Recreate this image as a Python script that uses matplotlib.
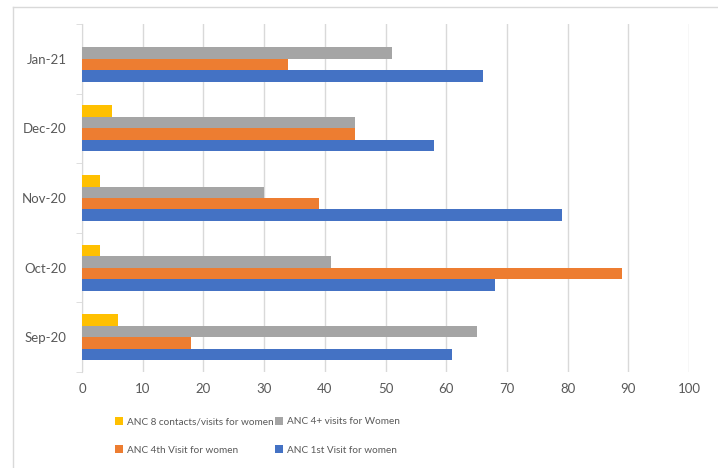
import matplotlib
matplotlib.use("Agg")
import matplotlib.pyplot as plt
from matplotlib.lines import Line2D
import numpy as np

plt.rcParams['font.family'] = ['Lato', 'DejaVu Sans']

months = ["Sep-20", "Oct-20", "Nov-20", "Dec-20", "Jan-21"]
anc_1st = [61, 68, 79, 58, 66]
anc_4th = [18, 89, 39, 45, 34]
anc_4plus = [65, 41, 30, 45, 51]
anc_8 = [6, 3, 3, 5, 0]

series = [
    ("ANC 1st Visit for women", anc_1st, "#4472C4"),
    ("ANC 4th Visit for women", anc_4th, "#ED7D31"),
    ("ANC 4+ visits for Women", anc_4plus, "#A5A5A5"),
    ("ANC 8 contacts/visits for women", anc_8, "#FFC000"),
]

W, H = 718, 468
fig = plt.figure(figsize=(W / 100, H / 100), dpi=100)
ax = fig.add_axes([82 / W, 1 - 372 / H, (689 - 82) / W, (372 - 24) / H])

y = np.arange(len(months))
bh = 0.165
offsets = (np.arange(4) - 1.5) * bh
bars = {}
for (name, vals, col), off in zip(series, offsets):
    bars[name] = ax.barh(y + off, vals, height=bh, color=col, label=name, zorder=3)

ax.set_xlim(0, 100)
ax.set_ylim(-0.5, len(months) - 0.5)
ax.set_xticks(np.arange(0, 101, 10))
ax.grid(axis='x', color='#D9D9D9', linewidth=1, zorder=0)
ax.set_yticks(y)
ax.set_yticklabels(months)
ax.set_yticks(np.arange(-0.5, len(months), 1), minor=True)
ax.tick_params(axis='y', which='major', length=0, pad=11, labelsize=9.5, labelcolor='#595959')
ax.tick_params(axis='y', which='minor', length=4, color='#D9D9D9', direction='out')
ax.tick_params(axis='x', length=0, pad=8, labelsize=9.5, labelcolor='#595959')
for s in ['top', 'right', 'bottom']:
    ax.spines[s].set_visible(False)
ax.spines['left'].set_color('#D9D9D9')

# chart-area border
fig.add_artist(Line2D([13 / W, 1], [1 - 7 / H, 1 - 7 / H], transform=fig.transFigure,
                      color='#D9D9D9', linewidth=1))
fig.add_artist(Line2D([13 / W, 13 / W], [0, 1 - 7 / H], transform=fig.transFigure,
                      color='#D9D9D9', linewidth=1))

order = ["ANC 8 contacts/visits for women", "ANC 4th Visit for women",
         "ANC 4+ visits for Women", "ANC 1st Visit for women"]
handles = [bars[n] for n in order]
fig.legend(handles, order, ncol=2, loc='upper left',
           bbox_to_anchor=(106 / W, 1 - 408 / H), frameon=False,
           fontsize=7.2, labelcolor='#595959', handlelength=0.8, handleheight=0.8,
           handletextpad=0.4, columnspacing=0.1, labelspacing=1.9)

fig.savefig("out.png", dpi=100)
